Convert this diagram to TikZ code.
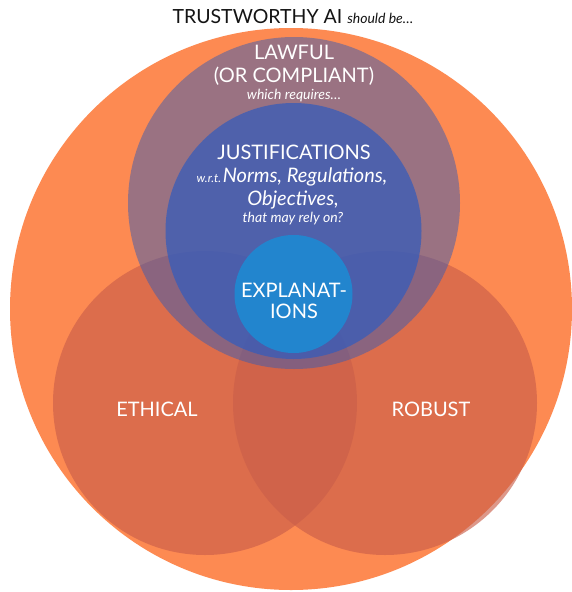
\documentclass[tikz,border=0pt]{standalone}
\usepackage{fontspec}
\setmainfont{Lato}
\definecolor{orangebg}{RGB}{253,138,82}
\definecolor{redc}{RGB}{202,94,73}
\definecolor{lawc}{RGB}{57,92,178}
\definecolor{justc}{RGB}{55,92,186}
\definecolor{explc}{RGB}{30,138,210}
\definecolor{titlec}{RGB}{20,20,20}
\begin{document}
\begin{tikzpicture}[x=1pt,y=-1pt,
  disc/.style={circle,draw=none,inner sep=0pt,outer sep=0pt},
  lbl/.style={text=white,align=center,inner sep=0pt},
  big/.style={font=\fontsize{20}{22}\selectfont},
  small/.style={font=\fontsize{14}{16}\selectfont\itshape}]
\useasboundingbox (0,0) rectangle (571,592);
\fill[white] (0,0) rectangle (571,592);
% outer
\node[disc,fill=orangebg,minimum size=562] (outer) at (291,309) {};
% ethical & robust
\node[disc,fill=redc,fill opacity=0.64,minimum size=304] (eth) at (205,403) {};
\node[disc,fill=redc,fill opacity=0.64,minimum size=304] (rob) at (385,403) {};
% lawful
\node[disc,fill=lawc,fill opacity=0.5,minimum size=332] (law) at (294,203) {};
% justifications
\node[disc,fill=justc,fill opacity=0.75,minimum size=256] (just) at (293.5,231) {};
% explanations
\node[disc,fill=explc,fill opacity=0.9,minimum size=118] (expl) at (293.5,294) {};
% labels
\node[inner sep=0pt,text=titlec,font=\fontsize{19.5}{22}\selectfont] (title) at (293,17)
  {TRUSTWORTHY AI \fontsize{14}{16}\selectfont\itshape should be…};
\node[lbl,big] (lawl1) at (294,52) {LAWFUL};
\node[lbl,big] (lawl2) at (294,76) {(OR COMPLIANT)};
\node[lbl,small] (lawl3) at (294,96) {which requires…};
\node[lbl,big] (just1) at (294,152) {JUSTIFICATIONS};
\node[lbl] (just2) at (292,177) {{\fontsize{12}{14}\selectfont\itshape w.r.t.}\,{\fontsize{20}{22}\selectfont\itshape Norms, Regulations,}};
\node[lbl,font=\fontsize{20}{22}\selectfont\itshape] (just3) at (293,200) {Objectives,};
\node[lbl,small] (just4) at (293,219) {that may rely on?};
\node[lbl,big] (expl1) at (294,290) {EXPLANAT-};
\node[lbl,big] (expl2) at (294,311) {IONS};
\node[lbl,big] (ethl) at (157,409) {ETHICAL};
\node[lbl,big] (robl) at (431,409) {ROBUST};
\end{tikzpicture}
\end{document}
